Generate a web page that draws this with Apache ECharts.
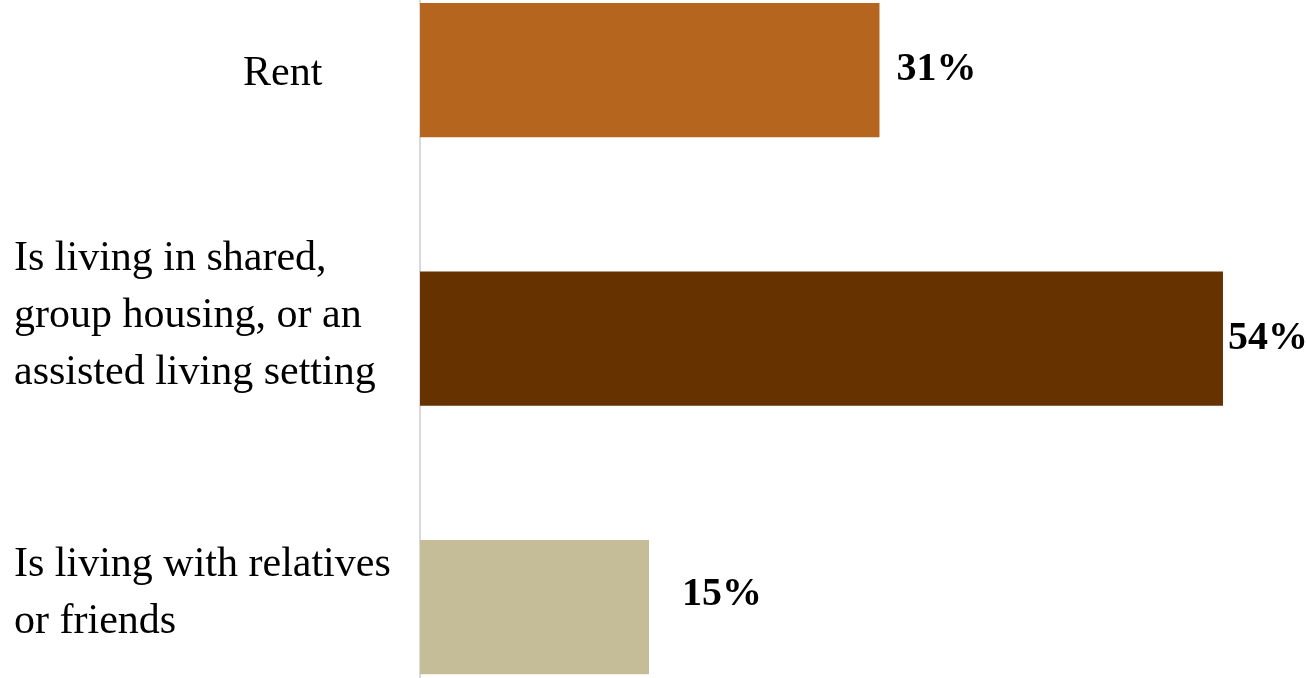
<!DOCTYPE html>
<html>
<head>
<meta charset="utf-8">
<script src="https://cdn.jsdelivr.net/npm/echarts@6/dist/echarts.min.js"></script>
<style>
html,body{margin:0;padding:0;background:#fff;}
#chart{width:1307px;height:678px;}
</style>
</head>
<body>
<div id="chart"></div>
<script>
var categories = ['Rent', 'Is living in shared,\ngroup housing, or an\nassisted living setting', 'Is living with relatives\nor friends'];
var values = [30.9, 54.0, 15.4];
var labelsText = ['31%', '54%', '15%'];
var barColors = ['#B5651D', '#663300', '#C4BD97'];

var labelStyles = [
  {distance: 17, offset: [0, 0]},
  {distance: 5, offset: [0, 0]},
  {distance: 33, offset: [0, -12]}
];

var chart = echarts.init(document.getElementById('chart'), null, {renderer: 'canvas'});
var FONT = '"Liberation Serif", "Times New Roman", serif';

chart.setOption({
  animation: false,
  backgroundColor: '#ffffff',
  grid: {left: 420, top: -64.25, height: 805.5, width: 892.2, containLabel: false, outerBoundsMode: 'none'},
  xAxis: {type: 'value', min: 0, max: 60, show: false, splitLine: {show: false}},
  yAxis: {
    type: 'category',
    inverse: true,
    data: categories,
    axisTick: {show: false},
    axisLine: {show: true, lineStyle: {color: '#D9D9D9', width: 2}},
    axisLabel: {
      align: 'left',
      margin: 406,
      color: '#000',
      fontFamily: FONT,
      fontSize: 42,
      formatter: function (v, i) {
        var lines = v.split('\n');
        if (i === 0) return '{r|' + lines[0] + '}';
        var s = lines.map(function (l) { return '{t|' + l + '}'; }).join('\n');
        return s + '\n' + (i === 1 ? '{s1| }' : '{s2| }');
      },
      rich: {
        r: {fontFamily: FONT, fontSize: 42, color: '#000', lineHeight: 57, padding: [8, 0, 0, 229]},
        t: {fontFamily: FONT, fontSize: 42, color: '#000', lineHeight: 57},
        s1: {fontSize: 4, lineHeight: 46},
        s2: {fontSize: 4, lineHeight: 27}
      }
    }
  },
  series: [{
    type: 'bar',
    barCategoryGap: '50%',
    data: values.map(function (v, i) {
      return {
        value: v,
        itemStyle: {color: barColors[i]},
        label: {
          show: true,
          position: 'right',
          distance: labelStyles[i].distance,
          offset: labelStyles[i].offset,
          formatter: labelsText[i],
          fontFamily: FONT,
          fontWeight: 'bold',
          fontSize: 40,
          color: '#000'
        }
      };
    })
  }]
});
</script>
</body>
</html>
